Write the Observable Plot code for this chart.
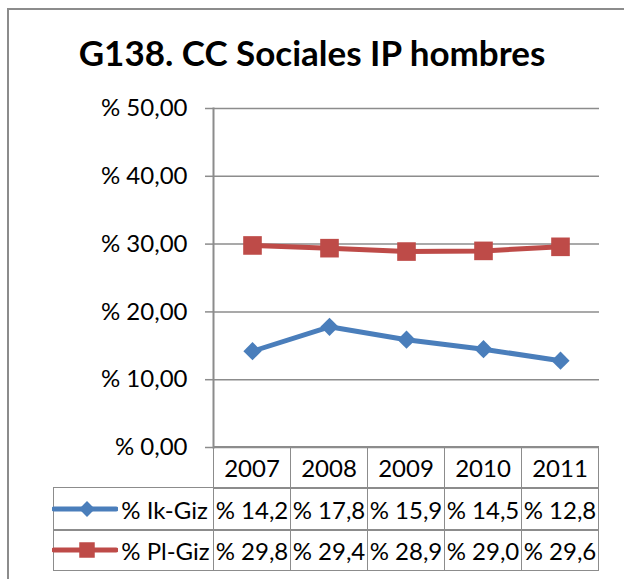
<!DOCTYPE html>
<html><head><meta charset="utf-8">
<script src="https://cdn.jsdelivr.net/npm/d3@7"></script>
<script src="https://cdn.jsdelivr.net/npm/@observablehq/plot@0.6"></script>
<style>
body{margin:0;background:#fff;}
#chart{position:relative;width:624px;height:579px;overflow:hidden;font-family:Lato,sans-serif;color:#000;background:#fff;}
#frame{position:absolute;left:7px;top:8px;width:700px;height:700px;border-left:2px solid #8c8c8c;border-top:2px solid #8c8c8c;}
#title{position:absolute;left:0;width:624px;top:34px;text-align:center;font-weight:bold;font-size:35px;line-height:36px;white-space:nowrap;}
#chart svg{position:absolute;left:0;top:0;}
.cell{position:absolute;box-sizing:border-box;border:1.5px solid #8c8c8c;display:flex;align-items:center;justify-content:center;font-size:24px;white-space:nowrap;}
.leg{justify-content:flex-start;}
</style>
</head><body>
<div id="chart"><div id="frame"></div><div id="title"></div></div>
<script>
const title = "G138. CC Sociales IP hombres";
const years = ["2007","2008","2009","2010","2011"];
const ikGiz = [14.2,17.8,15.9,14.5,12.8];
const plGiz = [29.8,29.4,28.9,29.0,29.6];
const seriesNames = ["% Ik-Giz","% Pl-Giz"];
const seriesColors = ["#4A7EBB","#BE4B48"];
const yTicks = [0,10,20,30,40,50];

const ik = years.map((year,i)=>({year, value: ikGiz[i]}));
const pl = years.map((year,i)=>({year, value: plGiz[i]}));
const fmtTick = d => "% " + d.toFixed(2).replace(".", ",");
const fmtVal = d => "% " + d.toFixed(1).replace(".", ",");

document.getElementById("title").textContent = title;

const plot = Plot.plot({
  width:624, height:579, marginTop:108, marginBottom:132, marginLeft:213, marginRight:25,
  style:{fontFamily:"Lato", fontSize:"24px", color:"#000", background:"transparent", overflow:"visible"},
  x:{type:"point", domain:years, padding:0.5, axis:null},
  y:{domain:[0,50], axis:null},
  marks:[
    Plot.gridY(yTicks, {stroke:"#8c8c8c", strokeOpacity:1, strokeWidth:1.5}),
    Plot.axisY(yTicks, {label:null, tickSize:8, tickPadding:18, tickFormat:fmtTick, stroke:"#8c8c8c", strokeWidth:1.5, fill:"#000", fontSize:24}),
    Plot.frame({anchor:"left", stroke:"#8c8c8c", strokeWidth:2}),
    Plot.lineY(pl, {x:"year", y:"value", stroke:seriesColors[1], strokeWidth:5}),
    Plot.dot(pl, {x:"year", y:"value", symbol:"square", r:10.5, fill:seriesColors[1]}),
    Plot.lineY(ik, {x:"year", y:"value", stroke:seriesColors[0], strokeWidth:5}),
    Plot.dot(ik, {x:"year", y:"value", symbol:"diamond2", r:8.2, fill:seriesColors[0]})
  ]
});
const chart = document.getElementById("chart");
chart.appendChild(plot);

// data table below the plot, aligned with the x scale
const xs = plot.scale("x"), ys = plot.scale("y");
const step = xs.apply(years[1]) - xs.apply(years[0]);
const colLeft = years.map(y => xs.apply(y) - step/2);
const legLeft = 54;
const legWidth = colLeft[0] - legLeft;
const rowH = [41,42,40];
const rowTop = [ys.apply(0)];
rowTop.push(rowTop[0] + rowH[0]);
rowTop.push(rowTop[1] + rowH[1]);
const b = 0.75;
function cell(left, top, w, h, cls) {
  const d = document.createElement("div");
  d.className = "cell" + (cls ? " " + cls : "");
  d.style.left = (left - b) + "px";
  d.style.top = (top - b) + "px";
  d.style.width = (w + 2*b) + "px";
  d.style.height = (h + 2*b) + "px";
  chart.appendChild(d);
  return d;
}
years.forEach((y,i) => { cell(colLeft[i], rowTop[0], step, rowH[0]).textContent = y; });
const seriesVals = [ikGiz, plGiz];
seriesNames.forEach((name, s) => {
  const top = rowTop[s+1], h = rowH[s+1];
  const lc = cell(legLeft, top, legWidth, h, "leg");
  const svg = d3.create("svg").attr("width", 66).attr("height", 22)
    .style("position","static").style("margin-left","-2px").style("margin-right","3px");
  svg.append("line").attr("x1",2).attr("x2",64).attr("y1",11).attr("y2",11)
    .attr("stroke", seriesColors[s]).attr("stroke-width",5).attr("stroke-linecap","round");
  const sym = s === 0 ? d3.symbolDiamond2 : d3.symbolSquare;
  svg.append("path").attr("transform","translate(35,11)")
    .attr("d", d3.symbol(sym, s === 0 ? 160 : 240)()).attr("fill", seriesColors[s]);
  lc.appendChild(svg.node());
  const sp = document.createElement("span"); sp.textContent = name; lc.appendChild(sp);
  years.forEach((y,i) => { cell(colLeft[i], top, step, h).textContent = fmtVal(seriesVals[s][i]); });
});
</script>
</body></html>
